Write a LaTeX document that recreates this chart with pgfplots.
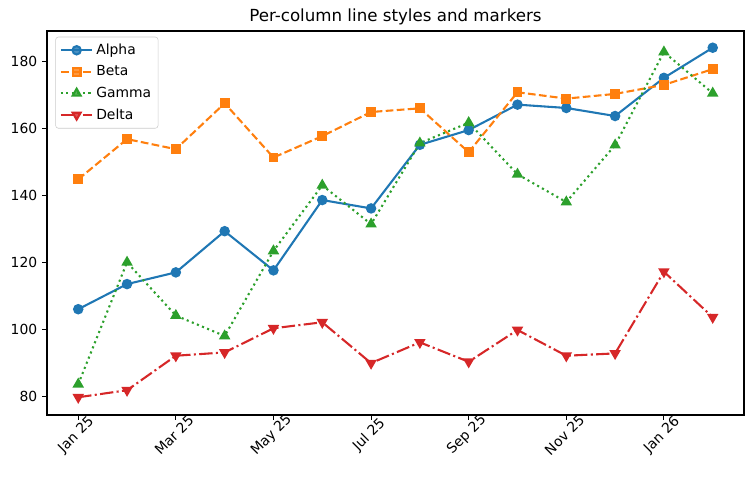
\documentclass[border=0pt]{standalone}
\usepackage{fontspec}
\setmainfont{DejaVu Sans}
\usepackage{pgfplots}
\pgfplotsset{compat=1.18}

\definecolor{cA}{HTML}{1F77B4}
\definecolor{cB}{HTML}{FF7F0E}
\definecolor{cC}{HTML}{2CA02C}
\definecolor{cD}{HTML}{D62728}

\begin{document}
\begin{tikzpicture}
\begin{axis}[
  name=ax,
  scale only axis,
  width=501.8pt, height=276.5pt,
  xmin=-0.64, xmax=13.64,
  ymin=74.4, ymax=189.1,
  xtick={0,2,4,6,8,10,12},
  xticklabels={Jan 25,Mar 25,May 25,Jul 25,Sep 25,Nov 25,Jan 26},
  ytick={80,100,120,140,160,180},
  tick pos=left,
  tick align=outside,
  major tick length=3.5pt,
  tick style={black, line width=0.8pt},
  axis line style={line width=0.8pt},
  /pgf/number format/assume math mode=true,
  ticklabel style={font=\fontsize{10}{12}\selectfont},
  x tick label style={anchor=center, yshift=-11pt, xshift=-1.3pt, rotate=45},
  title={Per-column line styles and markers},
  title style={font=\fontsize{12}{14}\selectfont, yshift=-5pt},
  legend style={at={(0.012,0.985)}, anchor=north west,
    draw=black!20, rounded corners=2pt, fill=white, fill opacity=0.8,
    text opacity=1, font=\fontsize{10}{12}\selectfont,
    row sep=2.6pt, inner sep=3pt},
  legend cell align=left,
  legend image code/.code={
    \draw[mark repeat=2, mark phase=2] plot coordinates {(0cm,0cm) (0.4cm,0cm) (0.8cm,0cm)};
  },
  every axis plot/.append style={line width=1.5pt},
]
\addplot[cA, mark=*, mark size=3pt, mark options={solid}] coordinates {
  (0,106.0) (1,113.5) (2,117.0) (3,129.3) (4,117.6) (5,138.6) (6,136.1)
  (7,155.1) (8,159.5) (9,167.1) (10,166.1) (11,163.7) (12,175.1) (13,184.1)
};
\addlegendentry{Alpha}
\addplot[cB, mark=square*, mark size=2.8pt, mark options={solid},
  dash pattern=on 5.55pt off 2.4pt] coordinates {
  (0,144.8) (1,156.8) (2,153.8) (3,167.5) (4,151.3) (5,157.7) (6,164.9)
  (7,166.0) (8,152.9) (9,170.8) (10,168.9) (11,170.3) (12,173.0) (13,177.7)
};
\addlegendentry{Beta}
\addplot[cC, mark=triangle*, mark size=3.3pt, mark options={solid},
  dash pattern=on 1.5pt off 2.475pt] coordinates {
  (0,83.6) (1,120.0) (2,104.1) (3,98.0) (4,123.4) (5,143.0) (6,131.4)
  (7,155.6) (8,161.7) (9,146.3) (10,138.0) (11,155.0) (12,182.8) (13,170.5)
};
\addlegendentry{Gamma}
\addplot[cD, mark=triangle*, mark size=3.3pt, mark options={solid, rotate=180},
  dash pattern=on 9.6pt off 2.4pt on 1.5pt off 2.4pt] coordinates {
  (0,79.7) (1,81.8) (2,92.1) (3,93.1) (4,100.3) (5,102.1) (6,89.9)
  (7,96.1) (8,90.3) (9,99.8) (10,92.1) (11,92.8) (12,117.2) (13,103.6)
};
\addlegendentry{Delta}
\end{axis}
\pgfresetboundingbox
\path ([shift={(-33.84pt,-47.52pt)}]ax.south west) rectangle ([shift={(509.04pt,298.8pt)}]ax.south west);
\end{tikzpicture}
\end{document}
